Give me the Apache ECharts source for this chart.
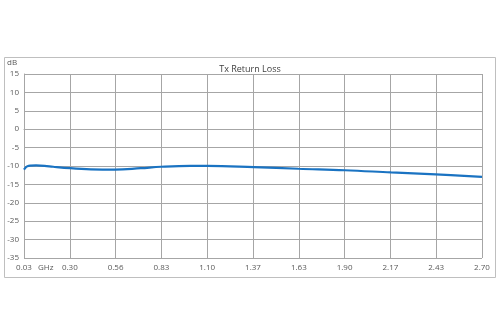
<!DOCTYPE html>
<html>
<head>
<meta charset="utf-8">
<script src="https://cdn.jsdelivr.net/npm/echarts@6/dist/echarts.min.js"></script>
<style>
html,body{margin:0;padding:0;background:#fff;}
#c{width:500px;height:334px;}
</style>
</head>
<body>
<div id="c"></div>
<script>
const title = 'Tx Return Loss';
const freqGHz = [0.03, 0.04, 0.05, 0.07, 0.10, 0.15, 0.20, 0.30, 0.42, 0.56, 0.71, 0.83, 1.00, 1.10, 1.37, 1.63, 1.90, 2.17, 2.43, 2.70];
const returnLossDb = [-11.0, -10.4, -10.05, -9.9, -9.85, -9.95, -10.2, -10.6, -10.9, -11.0, -10.6, -10.2, -9.95, -9.95, -10.3, -10.75, -11.15, -11.75, -12.3, -12.95];
const xMin = 0.03, xMax = 2.70, xStep = 0.267;
const yMin = -35, yMax = 15, yStep = 5;
const yUnit = 'dB', xUnit = 'GHz';

const font = '"Open Sans", "Liberation Sans", sans-serif';
const textColor = '#595959';
const gridColor = '#a6a6a6';

const chart = echarts.init(document.getElementById('c'), null, {renderer: 'canvas'});
chart.setOption({
  animation: false,
  backgroundColor: '#fff',
  title: {
    text: title, left: 'center', top: 60,
    textStyle: {fontFamily: font, fontSize: 9, fontWeight: 'normal', color: '#404040'}
  },
  graphic: [
    {type: 'rect', shape: {x: 4.5, y: 57.5, width: 491, height: 220}, style: {fill: 'none', stroke: '#bfbfbf', lineWidth: 1}, z: -1},
    {type: 'text', left: 7, top: 59, style: {text: yUnit, font: '8px ' + font, fill: textColor}},
    {type: 'text', left: 38, top: 264, style: {text: xUnit, font: '8px ' + font, fill: textColor}}
  ],
  grid: {left: 24, right: 18, top: 74, bottom: 76, containLabel: false},
  xAxis: {
    type: 'value', min: xMin, max: xMax, interval: xStep,
    axisLine: {show: true, lineStyle: {color: gridColor, width: 1}},
    axisTick: {show: false},
    splitLine: {show: true, lineStyle: {color: gridColor, width: 1}},
    axisLabel: {
      color: textColor, fontFamily: font, fontSize: 8, margin: 6,
      formatter: v => (Math.round(v * 1000 + 1e-6) / 1000 + 1e-9).toFixed(2),
      showMaxLabel: true, showMinLabel: true
    }
  },
  yAxis: {
    type: 'value', min: yMin, max: yMax, interval: yStep,
    axisLine: {show: true, lineStyle: {color: gridColor, width: 1}},
    axisTick: {show: false},
    splitLine: {show: true, lineStyle: {color: gridColor, width: 1}},
    axisLabel: {color: textColor, fontFamily: font, fontSize: 8, margin: 5}
  },
  series: [{
    type: 'line', smooth: 0.4, symbol: 'none',
    data: freqGHz.map((f, i) => [f, returnLossDb[i]]),
    lineStyle: {color: '#1a73c2', width: 2.2}
  }]
});
</script>
</body>
</html>
